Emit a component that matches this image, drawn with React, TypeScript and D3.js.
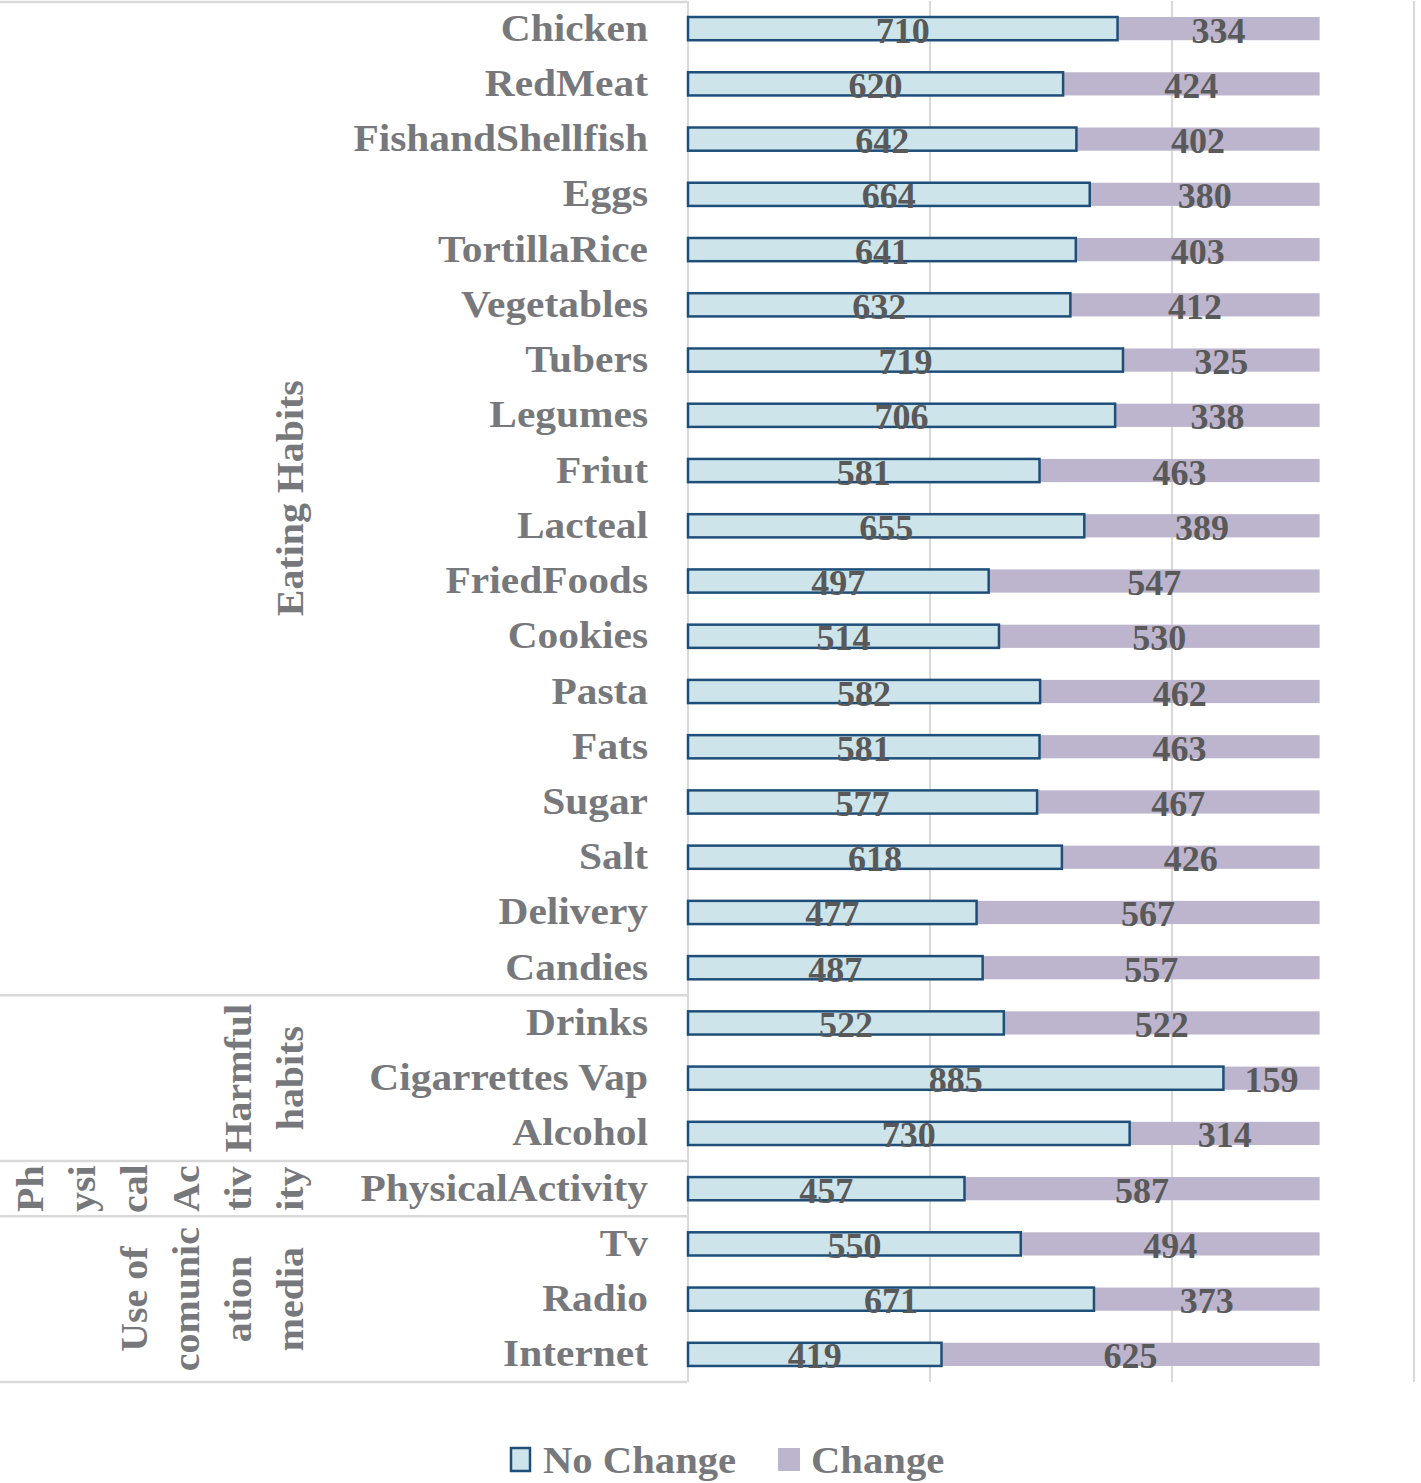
import React, { useEffect, useRef } from 'react';
import * as d3 from 'd3';

const categories = [
  'Chicken', 'RedMeat', 'FishandShellfish', 'Eggs', 'TortillaRice', 'Vegetables',
  'Tubers', 'Legumes', 'Friut', 'Lacteal', 'FriedFoods', 'Cookies', 'Pasta', 'Fats',
  'Sugar', 'Salt', 'Delivery', 'Candies',
  'Drinks', 'Cigarrettes Vap', 'Alcohol',
  'PhysicalActivity',
  'Tv', 'Radio', 'Internet',
];
const noChange = [710, 620, 642, 664, 641, 632, 719, 706, 581, 655, 497, 514, 582, 581, 577, 618, 477, 487, 522, 885, 730, 457, 550, 671, 419];
const change = [334, 424, 402, 380, 403, 412, 325, 338, 463, 389, 547, 530, 462, 463, 467, 426, 567, 557, 522, 159, 314, 587, 494, 373, 625];

// group name broken into the lines the original wraps it into, and how many rows it covers
const groups = [
  { lines: ['Eating Habits'], rows: 18 },
  { lines: ['Harmful', 'habits'], rows: 3 },
  { lines: ['Ph', 'ysi', 'cal', 'Ac', 'tiv', 'ity'], rows: 1 },
  { lines: ['Use of', 'comunic', 'ation', 'media'], rows: 3 },
];
const xTicks = [0, 400, 800, 1200];
const seriesNames = ['No Change', 'Change'];

const W = 1421;
const H = 1483;
const FONT = '"Liberation Serif", "DejaVu Serif", serif';
const LABEL_GREY = '#77787b';
const VALUE_GREY = '#595959';
const GRID = '#d9d9d9';
const BLUE_FILL = '#cce4ea';
const BLUE_LINE = '#1f4e79';
const LAVENDER = '#bdb5cd';
const STRETCH = 1.09; // the original face is wider than Liberation Serif

const App = () => {
  const svgRef = useRef(null);

  useEffect(() => {
    const svg = d3.select(svgRef.current);
    svg.selectAll('*').remove();

    const x = d3.scaleLinear().domain([0, 1200]).range([688, 1414]);
    const y = d3.scaleBand().domain(categories).range([1, 1382]).padding(0);
    const barH = y.bandwidth() * 0.42;
    const barY = (c: string) => y(c) + (y.bandwidth() - barH) / 2;

    const data = categories.map((c, i) => ({ c, a: noChange[i], b: change[i] }));

    // vertical gridlines
    svg.append('g')
      .selectAll('line')
      .data(xTicks)
      .enter()
      .append('line')
      .attr('x1', (d) => x(d))
      .attr('x2', (d) => x(d))
      .attr('y1', 1)
      .attr('y2', 1382)
      .attr('stroke', GRID)
      .attr('stroke-width', 2);

    // table lines on the left (top edge plus group boundaries)
    let acc = 0;
    const bounds = [2];
    groups.forEach((g) => {
      acc += g.rows;
      bounds.push(1 + acc * y.step());
    });
    svg.append('g')
      .selectAll('line')
      .data(bounds)
      .enter()
      .append('line')
      .attr('x1', 0)
      .attr('x2', 687)
      .attr('y1', (d) => d)
      .attr('y2', (d) => d)
      .attr('stroke', GRID)
      .attr('stroke-width', 2.5);

    // Change segment
    svg.append('g')
      .selectAll('rect')
      .data(data)
      .enter()
      .append('rect')
      .attr('x', (d) => x(d.a))
      .attr('y', (d) => barY(d.c))
      .attr('width', (d) => x(d.a + d.b) - x(d.a))
      .attr('height', barH)
      .attr('fill', LAVENDER);

    // No Change segment
    svg.append('g')
      .selectAll('rect')
      .data(data)
      .enter()
      .append('rect')
      .attr('x', x(0))
      .attr('y', (d) => barY(d.c))
      .attr('width', (d) => x(d.a) - x(0))
      .attr('height', barH)
      .attr('fill', BLUE_FILL)
      .attr('stroke', BLUE_LINE)
      .attr('stroke-width', 2.5);

    // value labels
    const vals = svg.append('g')
      .attr('font-family', FONT)
      .attr('font-weight', 'bold')
      .attr('font-size', 36)
      .attr('fill', VALUE_GREY)
      .attr('text-anchor', 'middle');
    vals.selectAll('text.a')
      .data(data)
      .enter()
      .append('text')
      .attr('x', (d) => (x(0) + x(d.a)) / 2)
      .attr('y', (d) => y(d.c) + y.bandwidth() / 2 + 14)
      .text((d) => d.a);
    vals.selectAll('text.b')
      .data(data)
      .enter()
      .append('text')
      .attr('x', (d) => (x(d.a) + x(d.a + d.b)) / 2)
      .attr('y', (d) => y(d.c) + y.bandwidth() / 2 + 14)
      .text((d) => d.b);

    // category labels
    svg.append('g')
      .attr('font-family', FONT)
      .attr('font-weight', 'bold')
      .attr('font-size', 38)
      .attr('fill', LABEL_GREY)
      .attr('text-anchor', 'end')
      .selectAll('text')
      .data(categories)
      .enter()
      .append('text')
      .attr('transform', (d) => `translate(648,${y(d) + y.bandwidth() / 2 + 12}) scale(${STRETCH},1)`)
      .text((d) => d);

    // rotated group labels
    const gl = svg.append('g')
      .attr('font-family', FONT)
      .attr('font-weight', 'bold')
      .attr('font-size', 38)
      .attr('fill', LABEL_GREY)
      .attr('text-anchor', 'middle');
    let start = 0;
    groups.forEach((g) => {
      const cy = 1 + (start + g.rows / 2) * y.step();
      start += g.rows;
      g.lines.forEach((ln, i) => {
        const cx = 290 - (g.lines.length - 1 - i) * 52;
        gl.append('text')
          .attr('transform', `translate(${cx},${cy}) rotate(-90) scale(1.05,1)`)
          .attr('dy', '0.35em')
          .text(ln);
      });
    });

    // legend
    const lg = svg.append('g')
      .attr('font-family', FONT)
      .attr('font-weight', 'bold')
      .attr('font-size', 38)
      .attr('fill', LABEL_GREY);
    const legendX = [510, 778];
    seriesNames.forEach((s, i) => {
      lg.append('rect')
        .attr('x', legendX[i] + (i === 0 ? 1 : 0))
        .attr('y', 1448)
        .attr('width', i === 0 ? 19 : 22)
        .attr('height', 23)
        .attr('fill', i === 0 ? BLUE_FILL : LAVENDER)
        .attr('stroke', i === 0 ? BLUE_LINE : 'none')
        .attr('stroke-width', 2.5);
      lg.append('text')
        .attr('transform', `translate(${legendX[i] + 33},1473) scale(1.07,1)`)
        .text(s);
    });
  }, []);

  return (
    <div style={{ position: 'absolute', left: 0, top: 0 }}>
      <svg ref={svgRef} width={W} height={H} style={{ display: 'block', background: '#fff' }} />
    </div>
  );
};

export default App;
